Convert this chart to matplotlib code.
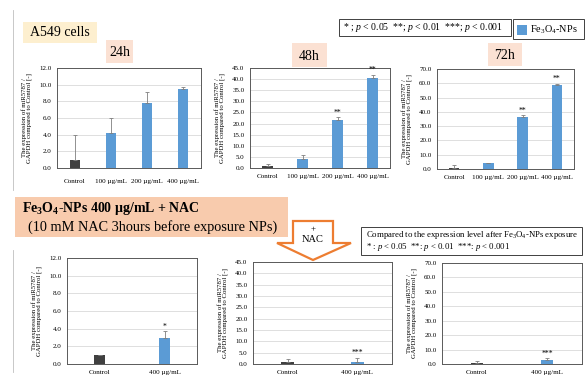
import numpy as np
import matplotlib.pyplot as plt
from matplotlib.patches import Rectangle, Polygon

plt.rcParams['font.family'] = ['Liberation Serif', 'DejaVu Serif']
plt.rcParams['mathtext.fontset'] = 'custom'
plt.rcParams['mathtext.rm'] = 'Liberation Serif'
plt.rcParams['mathtext.it'] = 'Liberation Serif:italic'
plt.rcParams['mathtext.bf'] = 'Liberation Serif:bold'

# top row: Fe3O4-NPs only
cats_top = ['Control', '100 µg/mL', '200 µg/mL', '400 µg/mL']
vals_24h = [1.0, 4.2, 7.8, 9.5]
err_24h = [3.0, 1.8, 1.3, 0.25]
vals_48h = [0.8, 4.1, 21.5, 40.3]
err_48h = [1.0, 1.8, 1.3, 1.7]
vals_72h = [0.8, 4.0, 36.7, 59.0]
err_72h = [1.7, 0.5, 0.8, 0.8]
stars_48h = ['', '', '**', '**']
stars_72h = ['', '', '**', '**']

# bottom row: + NAC
cats_bot = ['Control', '400 µg/mL']
vals_nac_24 = [1.0, 3.0]
err_nac_24 = [0.05, 0.7]
vals_nac_48 = [0.8, 1.0]
err_nac_48 = [1.2, 1.8]
vals_nac_72 = [0.9, 2.7]
err_nac_72 = [1.1, 1.3]
stars_nac_24 = ['', '*']
stars_nac_48 = ['', '***']
stars_nac_72 = ['', '***']

W, H = 587, 381
fig = plt.figure(figsize=(W / 100, H / 100), dpi=100)
fig.patch.set_facecolor('white')


def rect(x0, y0, x1, y1):
    return [x0 / W, 1 - y1 / H, (x1 - x0) / W, (y1 - y0) / H]


def box(x0, y0, x1, y1, fc, ec='none', lw=0.8):
    fig.patches.append(Rectangle((x0 / W, 1 - y1 / H), (x1 - x0) / W, (y1 - y0) / H,
                                 transform=fig.transFigure, fc=fc, ec=ec, lw=lw))


def ftext(x, y, s, **kw):
    fig.text(x / W, 1 - y / H, s, **kw)


blue = '#5b9bd5'
dark = '#404040'
ylab = 'The expression of miR5787 /\nGAPDH compared to Control [-]'


def panel(pos, cats, vals, errs, stars, ymax, step, width, xpad=4):
    ax = fig.add_axes(rect(*pos))
    x = np.arange(len(cats))
    colors = [dark] + [blue] * (len(cats) - 1)
    ax.bar(x, vals, width=width, color=colors, zorder=2)
    ax.errorbar(x, vals, yerr=[np.zeros(len(errs)), errs], fmt='none',
                ecolor='#7f7f7f', elinewidth=0.6, capsize=1.5, capthick=0.6, zorder=3)
    for xi, v, e, s in zip(x, vals, errs, stars):
        if s:
            ax.text(xi, v + e + ymax * 0.005, s, ha='center', va='bottom', fontsize=5.5)
    ax.set_xlim(-0.5, len(cats) - 0.5)
    ax.set_ylim(0, ymax)
    ticks = np.arange(0, ymax + step / 2, step)
    ax.set_yticks(ticks)
    ax.set_yticklabels(['%.1f' % t for t in ticks])
    ax.set_xticks(x)
    ax.set_xticklabels(cats)
    ax.tick_params(axis='y', length=0, labelsize=5.0, pad=4)
    ax.tick_params(axis='x', length=0, labelsize=5.1, pad=xpad)
    ax.yaxis.grid(True, color='#d9d9d9', lw=0.6)
    ax.set_axisbelow(True)
    for sp in ax.spines.values():
        sp.set_color('#595959')
        sp.set_linewidth(0.7)
    ax.set_ylabel(ylab, fontsize=4.9, labelpad=5, linespacing=1.0)
    return ax


panel((57, 68, 201, 168), cats_top, vals_24h, err_24h, ['', '', '', ''], 12, 2, 0.3, xpad=8)
panel((250, 68, 390, 168), cats_top, vals_48h, err_48h, stars_48h, 45, 5, 0.3)
panel((437, 69, 574, 169), cats_top, vals_72h, err_72h, stars_72h, 70, 10, 0.3)
panel((67, 258, 197, 364), cats_bot, vals_nac_24, err_nac_24, stars_nac_24, 12, 2, 0.18)
panel((253, 262, 392, 364), cats_bot, vals_nac_48, err_nac_48, stars_nac_48, 45, 5, 0.18)
panel((442, 263, 582, 364), cats_bot, vals_nac_72, err_nac_72, stars_nac_72, 70, 10, 0.18)

# slide border lines on the left
fig.add_artist(plt.Line2D([13 / W, 13 / W], [1 - 10 / H, 1 - 190 / H], transform=fig.transFigure,
                          color='#bfbfbf', lw=0.6))
fig.add_artist(plt.Line2D([13 / W, 13 / W], [1 - 250 / H, 1 - 372 / H], transform=fig.transFigure,
                          color='#bfbfbf', lw=0.6))

# header boxes
box(23, 22, 97, 43, '#fdefcf')
ftext(60, 33, 'A549 cells', ha='center', va='center', fontsize=10)
for (x0, y0, x1, y1, s) in [(106, 40, 133, 63, '24h'), (292, 43, 327, 67, '48h'),
                            (488, 43, 522, 66, '72h')]:
    box(x0, y0, x1, y1, '#fbe1d3')
    ftext((x0 + x1) / 2, (y0 + y1) / 2 + 1, s, ha='center', va='center', fontsize=10)

# significance legend and series legend
box(339, 19, 511, 36, 'white', ec='#404040', lw=0.7)
ftext(343, 27.5, r'* ; $\it{p}$ < 0.05  **; $\it{p}$ < 0.01  ***; $\it{p}$ < 0.001',
      va='center', fontsize=7)
box(513, 19, 584, 39, 'white', ec='#404040', lw=0.7)
box(517, 25, 527, 35, blue)
ftext(530, 30, r'Fe$_3$O$_4$-NPs', va='center', fontsize=7.4)

# NAC section
box(15, 197, 288, 237, '#f8cbad')
ftext(22, 209, r'Fe$_\mathbf{3}$O$_\mathbf{4}$-NPs 400 µg/mL + NAC', va='center', fontsize=10,
      fontweight='bold')
ftext(28, 227, '(10 mM NAC 3hours before exposure NPs)', va='center', fontsize=10.3)

arrow = [(293, 221), (333, 221), (333, 243), (351, 243), (313, 260), (277, 243), (293, 243)]
fig.patches.append(Polygon([(x / W, 1 - y / H) for x, y in arrow], closed=True,
                           transform=fig.transFigure, fc='white', ec='#ed7d31', lw=1.6))
ftext(313, 229, '+', ha='center', va='center', fontsize=6.5)
ftext(313, 240, 'NAC', ha='center', va='center', fontsize=7.5)

box(361, 227, 582, 255, 'white', ec='#404040', lw=0.7)
ftext(366, 235, r'Compared to the expression level after Fe$_3$O$_4$-NPs exposure',
      va='center', fontsize=6.3)
ftext(366, 247, r'* : $\it{p}$ < 0.05  **: $\it{p}$ < 0.01  ***: $\it{p}$ < 0.001',
      va='center', fontsize=6.3)

plt.savefig('out.png', dpi=100)
